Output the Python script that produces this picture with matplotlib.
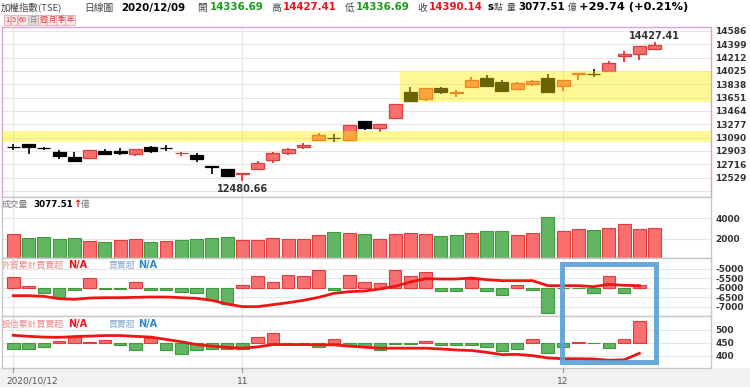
import matplotlib
matplotlib.use('Agg')
import matplotlib.pyplot as plt
from matplotlib.patches import Rectangle
from matplotlib.transforms import blended_transform_factory
import numpy as np

plt.rcParams['font.family'] = ['Noto Sans CJK TC', 'DejaVu Sans']

W, H = 750, 387

# ---- data ----
tick_idx = [0, 15, 36]
tick_labels = ['2020/10/12', '11', '12']

opens = [12956, 12996, 12942, 12893, 12823, 12809, 12898, 12902, 12856, 12954,
         12942, 12870, 12851, 12692, 12650, 12575, 12650, 12771, 12879, 12958,
         13057, 13087, 13057, 13323, 13225, 13361, 13730, 13637, 13781, 13711,
         13795, 13926, 13870, 13767, 13842, 13926, 13814, 13983, 13989, 14020,
         14235, 14259, 14336.69]
highs = [12996, 12998, 12962, 12916, 12893, 12916, 12926, 12940, 12926, 12972,
         12982, 12883, 12879, 12692, 12650, 12590, 12757, 12893, 12949, 13010,
         13150, 13136, 13262, 13323, 13281, 13562, 13795, 13781, 13800, 13763,
         13936, 13964, 13898, 13866, 13903, 13987, 13894, 14001, 14057, 14160,
         14310, 14371, 14427.41]
lows = [12916, 12860, 12910, 12790, 12757, 12809, 12860, 12846, 12832, 12879,
        12902, 12832, 12753, 12584, 12552, 12480.66, 12650, 12739, 12846, 12935,
        13057, 13028, 13057, 13202, 13173, 13361, 13599, 13608, 13707, 13665,
        13795, 13814, 13730, 13767, 13814, 13725, 13749, 13903, 13945, 14020,
        14151, 14184, 14336.69]
closes = [12952, 12963, 12938, 12832, 12757, 12916, 12860, 12874, 12926, 12902,
          12938, 12880, 12785, 12682, 12552, 12590, 12739, 12870, 12926, 12986,
          13127, 13083, 13262, 13230, 13281, 13562, 13599, 13781, 13725, 13730,
          13894, 13814, 13744, 13856, 13880, 13725, 13894, 14001, 13985, 14137,
          14259, 14371, 14390.14]

price_ticks = [12342, 12529, 12716, 12903, 13090, 13277, 13464, 13651, 13838,
               14025, 14212, 14399, 14586]
# yellow zones: (low, high, start index)
zone_low = [13025, 13586]
zone_high = [13183, 14029]
zone_start = [-0.74, 25.3]

volume = [2452, 2065, 2161, 1968, 2065, 1806, 1677, 1871, 1968, 1677,
          1806, 1903, 1968, 2065, 2161, 1871, 1871, 2129, 2000, 2000,
          2355, 2645, 2548, 2452, 2000, 2452, 2548, 2484, 2258, 2355,
          2548, 2806, 2774, 2355, 2548, 4161, 2774, 3000, 2839, 3032,
          3419, 2968, 3077.51]
vol_colors = list('RGGGGRGRRGRGGGGRRRRRRGRGRRRRGGRGGRRGRRGRRRR')
vol_ticks = [2000, 4000]

# foreign investors: cumulative (line) and daily net (bars); last day N/A
foreign_cum = [-6418, -6418, -6454, -6578, -6614, -6543, -6525, -6525, -6507, -6489,
               -6489, -6525, -6560, -6667, -6862, -7003, -7003, -6897, -6791, -6667,
               -6507, -6294, -6206, -6170, -6064, -5922, -5692, -5514, -5532, -5532,
               -5479, -5568, -5621, -5621, -5621, -5887, -5887, -5887, -5940, -5816,
               -5869, -5887]
foreign_net = [213, 33, -107, -213, -53, 193, -33, -20, 113, -47,
               -40, -80, -113, -253, -333, 40, 220, 100, 240, 220,
               340, -53, 240, 100, 85, 347, 233, 313, -73, -73,
               160, -73, -147, 53, -47, -500, 0, 0, -107, 233,
               -107, 53]
foreign_ticks = [-7000, -6500, -6000, -5500, -5000]

# investment trusts
trust_cum = [479, 475, 472, 471, 474, 476, 478, 478, 475, 472,
             463, 454, 443, 437, 432, 429, 434, 443, 443, 443,
             442, 442, 437, 433, 429, 429, 429, 429, 426, 422,
             420, 413, 404, 405, 400, 391, 388, 388, 387, 382,
             384, 409]
trust_net = [-5.7, -5.7, -4, 2.3, 6, 1.3, 3.3, -1.7, -7, 5,
             -7, -10.7, -6.7, -6.3, -5.7, -5.7, 6.3, 10, 0, 0,
             -4.3, 3.7, -2.7, -3.7, -6.7, -0.7, -0.7, 1.7, -1.7, -1.7,
             -1.7, -4, -8, -6, 4.3, -9.3, -4.3, 1, 0, -5.3,
             4.3, 21.7]
trust_ticks = [400, 450, 500]

change_txt = '+29.74 (+0.21%)'

# ---- colours ----
RED_FACE = '#f76f6f'
RED_EDGE = '#e03c3c'
GREEN_FACE = '#62b562'
GREEN_EDGE = '#3f9a3f'
LINE_RED = '#ee1515'
GRID = '#e6e6e6'

fig = plt.figure(figsize=(W / 100, H / 100), dpi=100)
fig.patch.set_facecolor('white')

L, R = 2, 711
XLIM = (-0.74, 45.69)


def px_axes(top, bottom):
    return fig.add_axes([L / W, 1 - bottom / H, (R - L) / W, (bottom - top) / H])


def fx(x):
    return x / W


def fy(y):
    return 1 - y / H


def style_axis(ax, edge):
    ax.set_xlim(*XLIM)
    ax.set_xticks([])
    for s in ax.spines.values():
        s.set_color(edge)
        s.set_linewidth(1.0)
    for t in tick_idx:
        ax.axvline(t, color=GRID, lw=0.8, zorder=0)


def right_ticks(ax, ticks, labels):
    ax.yaxis.tick_right()
    ax.set_yticks(ticks, labels=labels, fontweight='bold', fontsize=6.5,
                  color='#333333', family='DejaVu Sans')
    ax.tick_params(axis='y', length=0, pad=3)
    ax.grid(axis='y', color=GRID, lw=0.8)
    ax.set_axisbelow(True)


# bottom grey strip with dates
fig.add_artist(Rectangle((0, 0), 1, fy(368), transform=fig.transFigure,
                         facecolor='#f1f1f1', edgecolor='none', zorder=0))

# ---- price panel ----
ax = px_axes(27, 197)
style_axis(ax, '#dc9ee0')
ax.set_ylim(12257, 14642)
right_ticks(ax, price_ticks, [''] + [str(t) for t in price_ticks[1:]])
x = np.arange(len(opens))
for i in x:
    o, h, lo, c = opens[i], highs[i], lows[i], closes[i]
    up = c > o
    face = RED_FACE if up else 'black'
    edge = RED_EDGE if up else 'black'
    wick = '#e02020' if up else 'black'
    ax.vlines(i, lo, h, color=wick, lw=1.2, zorder=2)
    ax.bar(i, max(abs(c - o), 3), bottom=min(o, c), width=0.85, color=face,
           edgecolor=edge, lw=0.9, zorder=3)
for lo_, hi_, st in zip(zone_low, zone_high, zone_start):
    ax.fill_between([st, XLIM[1]], lo_, hi_, color=(1, 0.94, 0), alpha=0.42,
                    lw=0, zorder=4)
imin = int(np.argmin(lows))
imax = int(np.argmax(highs))
ax.annotate(f'{lows[imin]:.2f}', (imin, lows[imin]), xytext=(0, -2),
            textcoords='offset points', ha='center', va='top', fontsize=7,
            fontweight='bold', color='#333333', family='DejaVu Sans', zorder=6)
ax.annotate(f'{highs[imax]:.2f}', (imax, highs[imax]), xytext=(0, 1),
            textcoords='offset points', ha='center', va='bottom', fontsize=7,
            fontweight='bold', color='#333333', family='DejaVu Sans', zorder=6)

# ---- volume panel ----
axv = px_axes(197, 258)
style_axis(axv, '#c8c8c8')
axv.set_ylim(160, 6060)
right_ticks(axv, vol_ticks, [str(t) for t in vol_ticks])
vf = [RED_FACE if k == 'R' else GREEN_FACE for k in vol_colors]
ve = [RED_EDGE if k == 'R' else GREEN_EDGE for k in vol_colors]
axv.bar(x, volume, width=0.85, color=vf, edgecolor=ve, lw=0.8, zorder=2)


def flow_panel(top, bottom, net, cum, bar_lim, line_lim, ticks):
    axb = px_axes(top, bottom)
    style_axis(axb, '#c8c8c8')
    axb.set_yticks([])
    axb.set_ylim(*bar_lim)
    xi = np.arange(len(net))
    net = np.array(net)
    cols = [RED_FACE if v > 0 else GREEN_FACE for v in net]
    edges = [RED_EDGE if v > 0 else GREEN_EDGE for v in net]
    axb.bar(xi, net, width=0.82, color=cols, edgecolor=edges, lw=0.8, zorder=2)
    # grid lines of the line scale, drawn behind the bars
    for t in ticks:
        frac = (t - line_lim[0]) / (line_lim[1] - line_lim[0])
        axb.axhline(bar_lim[0] + frac * (bar_lim[1] - bar_lim[0]),
                    color=GRID, lw=0.8, zorder=0)
    axl = axb.twinx()
    axl.set_xlim(*XLIM)
    axl.set_ylim(*line_lim)
    right_ticks(axl, ticks, [str(t) for t in ticks])
    axl.grid(False)
    for s in axl.spines.values():
        s.set_visible(False)
    axl.plot(np.arange(len(cum)), cum, color=LINE_RED, lw=2.0, zorder=3)
    return axb, axl


axf, axfl = flow_panel(258, 316, foreign_net, foreign_cum, (-560, 580),
                       (-7500, -4415), foreign_ticks)
axt, axtl = flow_panel(316, 368, trust_net, trust_cum, (-24.5, 26.5),
                       (352, 554), trust_ticks)

# blue highlight box across the two flow panels
box_tr = blended_transform_factory(axtl.transData, fig.transFigure)
fig.add_artist(Rectangle((35.9, fy(362)), 42.06 - 35.9, fy(264) - fy(362),
                         transform=box_tr, fill=False, edgecolor='#5a9fd6',
                         lw=3.6, alpha=0.9, zorder=10))

# date labels and ticks
for t, lab in zip(tick_idx, tick_labels):
    xp = 13.3 + 15.27 * t
    fig.add_artist(plt.Line2D([fx(xp), fx(xp)], [fy(368), fy(372)],
                              color='#999999', lw=0.8))
    if t == 0:
        fig.text(fx(6), fy(381), lab, fontsize=6.5, color='#555555',
                 ha='left', va='center', family='DejaVu Sans')
    else:
        fig.text(fx(xp), fy(381), lab, fontsize=6.5, color='#555555',
                 ha='center', va='center', family='DejaVu Sans')

# ---- header ----
hy = fy(7.5)
header = [
    (1, '加權指數(TSE)', '#444444', 'normal', 6.8),
    (84, '日線圖', '#444444', 'normal', 7),
    (121, '2020/12/09', 'black', 'bold', 7.4),
    (197, '開', '#444444', 'normal', 7),
    (210, f'{opens[-1]:.2f}', '#1a9a1a', 'bold', 7.4),
    (271, '高', '#444444', 'normal', 7),
    (283, f'{highs[-1]:.2f}', '#e8141c', 'bold', 7.4),
    (345, '低', '#444444', 'normal', 7),
    (356, f'{lows[-1]:.2f}', '#1a9a1a', 'bold', 7.4),
    (417, '收', '#444444', 'normal', 7),
    (429, f'{closes[-1]:.2f}', '#e8141c', 'bold', 7.4),
    (487, 's', 'black', 'bold', 7.4),
    (494, '點', '#444444', 'normal', 6.3),
    (507, '量', '#444444', 'normal', 6.3),
    (518, f'{volume[-1]:.2f}', 'black', 'bold', 7.4),
    (568, '億', '#444444', 'normal', 6.3),
    (579, change_txt, 'black', 'bold', 8.2),
]
for xp, txt, col, wt, sz in header:
    fam = ['DejaVu Sans'] if wt == 'bold' else ['Noto Sans CJK TC', 'DejaVu Sans']
    fig.text(fx(xp), hy, txt, color=col, fontweight=wt, fontsize=sz,
             ha='left', va='center', family=fam)

# period buttons
buttons = [(7, '1'), (14, '5'), (23, '60'), (33, '日'), (43, '週'),
           (52, '月'), (61, '季'), (70, '年')]
for xp, txt in buttons:
    sel = txt == '日'
    fig.text(fx(xp), fy(20), txt, fontsize=5.2, ha='center', va='center',
             color='#888888' if sel else '#d83a3a',
             bbox=dict(boxstyle='square,pad=0.15',
                       facecolor='#d9d9d9' if sel else '#fbe9e9',
                       edgecolor='#bbbbbb' if sel else '#e4aaaa', lw=0.6))

# panel captions
fig.text(fx(2), fy(204), '成交量', fontsize=6.3, color='#777777', va='center')
fig.text(fx(33), fy(204), f'{volume[-1]:.2f}', fontsize=6.3, fontweight='bold',
         color='black', va='center', family='DejaVu Sans')
fig.text(fx(73), fy(204), '↑', fontsize=7, fontweight='bold', color='#e8141c',
         va='center', family='DejaVu Sans')
fig.text(fx(81), fy(204), '億', fontsize=6.3, color='#777777', va='center')

for ypx, name in [(265, '外資累計買賣超'), (324, '投信累計買賣超')]:
    fig.text(fx(2), fy(ypx), name, fontsize=6.4, color='#ee8888', va='center')
    fig.text(fx(68), fy(ypx), 'N/A', fontsize=7, fontweight='bold',
             color='#e8141c', va='center', family='DejaVu Sans')
    fig.text(fx(109), fy(ypx), '買賣超', fontsize=6.4, color='#88aacc', va='center')
    fig.text(fx(138), fy(ypx), 'N/A', fontsize=7, fontweight='bold',
             color='#2f86c8', va='center', family='DejaVu Sans')

fig.savefig('out.png', dpi=100)
